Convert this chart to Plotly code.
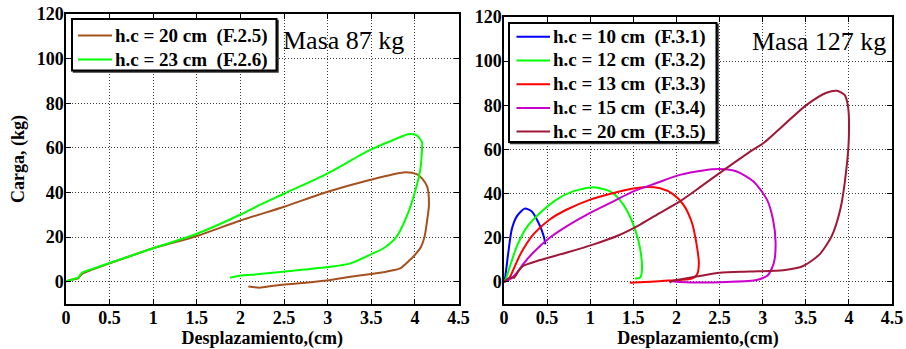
import plotly.graph_objects as go

# ---------------- data ----------------
# Left panel: Masa 87 kg
f25_x = [0, 0.05, 0.14, 0.18, 0.31, 0.5, 1.0, 1.5, 1.99, 2.5, 3.0, 3.48, 3.87, 4.02, 4.08, 4.14,
         4.16, 4.14, 4.11, 4.07, 3.98, 3.94, 3.83, 3.68, 3.52, 3.26, 2.99, 2.68, 2.38, 2.22, 2.09]
f25_y = [0, 0.8, 1.5, 3.4, 5.5, 8.2, 15.0, 20.5, 27.3, 33.6, 40.3, 45.6, 49.0, 48.2, 46.3, 42.6,
         34.4, 27.7, 20.2, 15.7, 11.2, 9.7, 6.0, 4.6, 3.6, 2.2, 0.5, -0.7, -1.8, -2.7, -2.2]

f26_x = [0, 0.05, 0.14, 0.18, 0.31, 0.5, 1.0, 1.5, 1.99, 2.22, 2.49, 3.0, 3.48, 3.75, 3.92, 4.02,
         4.08, 4.08, 4.06, 4.0, 3.92, 3.79, 3.64, 3.52, 3.26, 3.03, 2.49, 2.22, 1.99, 1.88]
f26_y = [0, 0.8, 1.8, 3.9, 5.8, 8.4, 15.0, 21.5, 29.9, 34.4, 39.3, 48.6, 59.0, 63.5, 66.1, 65.6,
         62.5, 59.0, 50.0, 40.3, 30.7, 20.2, 15.0, 12.7, 8.2, 6.7, 4.5, 3.4, 2.7, 1.8]

# Right panel: Masa 127 kg
f31_x = [0, 0.01, 0.05, 0.09, 0.15, 0.24, 0.32, 0.40, 0.46, 0.48]
f31_y = [0, 1.2, 13.3, 23.8, 29.8, 33.2, 32.0, 26.8, 20.8, 17.0]

f32_x = [0, 0.02, 0.07, 0.15, 0.26, 0.42, 0.61, 0.80, 1.04, 1.23, 1.34, 1.44, 1.52, 1.58, 1.60, 1.58, 1.52]
f32_y = [0, 1.2, 7.2, 16.2, 24.5, 31.3, 37.3, 41.0, 42.9, 41.0, 37.3, 31.3, 23.8, 14.8, 5.7, 2.0, 1.5]

f33_x = [0, 0.05, 0.11, 0.19, 0.34, 0.53, 0.73, 1.0, 1.27, 1.5, 1.65, 1.81, 1.96, 2.08, 2.18, 2.23,
         2.26, 2.24, 2.18, 2.04, 1.9, 1.7, 1.46]
f33_y = [0, 1.0, 5.7, 12.5, 21.5, 28.3, 32.8, 37.3, 40.3, 42.3, 43.0, 42.4, 39.8, 35.0, 26.8, 17.8,
         8.7, 3.5, 1.5, 0.9, 0.6, 0.1, -0.4]

f34_x = [0, 0.08, 0.15, 0.22, 0.34, 0.53, 0.73, 1.0, 1.27, 1.5, 1.77, 2.04, 2.31, 2.5, 2.70, 2.89,
         3.05, 3.12, 3.15, 3.13, 3.06, 2.93, 2.58, 2.31, 2.04, 1.95]
f34_y = [0, 1.5, 4.2, 8.0, 13.3, 20.0, 25.3, 31.3, 36.5, 41.0, 44.8, 48.5, 50.5, 51.1, 50.0, 45.6,
         37.3, 28.3, 17.8, 8.7, 3.0, 0.9, 0.0, -0.3, 0.0, 0.3]

f35_x = [0, 0.07, 0.12, 0.17, 0.22, 0.42, 0.73, 1.04, 1.31, 1.58, 1.81, 2.04, 2.27, 2.5, 2.89, 3.01,
         3.51, 3.74, 3.86, 3.95, 3.99, 4.0, 3.97, 3.90, 3.80, 3.66, 3.47, 3.24, 2.85, 2.50, 2.27,
         2.12, 1.96, 1.92]
f35_y = [0, 2.0, 2.0, 5.0, 7.2, 9.9, 13.3, 17.0, 20.8, 26.0, 31.3, 36.5, 42.8, 49.3, 59.9, 62.9,
         80.2, 85.7, 86.6, 84.7, 79.4, 65.9, 50.8, 32.8, 20.7, 12.5, 7.2, 5.3, 4.7, 4.2, 2.7,
         1.7, 0.5, -0.3]

left_names = ["h.c = 20 cm\u00a0\u00a0(F.2.5)", "h.c = 23 cm\u00a0\u00a0(F.2.6)"]
right_names = ["h.c = 10 cm\u00a0\u00a0(F.3.1)", "h.c = 12 cm\u00a0\u00a0(F.3.2)",
               "h.c = 13 cm\u00a0\u00a0(F.3.3)", "h.c = 15 cm\u00a0\u00a0(F.3.4)",
               "h.c = 20 cm\u00a0\u00a0(F.3.5)"]
x_ticks = [0, 0.5, 1, 1.5, 2, 2.5, 3, 3.5, 4, 4.5]
x_labels = ["0", "0.5", "1", "1.5", "2", "2.5", "3", "3.5", "4", "4.5"]
y_ticks = [0, 20, 40, 60, 80, 100, 120]
x_title = "Desplazamiento,(cm)"
y_title = "Carga, (kg)"
left_label = "Masa 87 kg"
right_label = "Masa 127 kg"

left_colors = ["#A5501F", "#00FF00"]
right_colors = ["#0000FF", "#00FF00", "#FF0000", "#CC00CC", "#A01838"]

# ---------------- figure ----------------
W, H = 906, 349
FONT = "Liberation Serif"

def px_x(p):
    return p / W

def px_y(p):
    return 1 - p / H

fig = go.Figure()
for xs, ys, nm, c in zip([f25_x, f26_x], [f25_y, f26_y], left_names, left_colors):
    fig.add_trace(go.Scatter(x=xs, y=ys, name=nm, mode="lines",
                             line=dict(color=c, width=2, shape="spline", smoothing=0.7),
                             xaxis="x", yaxis="y", showlegend=False))
for xs, ys, nm, c in zip([f31_x, f32_x, f33_x, f34_x, f35_x],
                         [f31_y, f32_y, f33_y, f34_y, f35_y], right_names, right_colors):
    fig.add_trace(go.Scatter(x=xs, y=ys, name=nm, mode="lines",
                             line=dict(color=c, width=2, shape="spline", smoothing=0.7),
                             xaxis="x2", yaxis="y2", showlegend=False))

tickfont = dict(family=FONT, size=18, color="black", weight="bold")
titlefont = dict(family=FONT, size=18, color="black", weight="bold")
GRID = dict(showgrid=True, gridcolor="#404040", griddash="1px,2px", gridwidth=1,
            zeroline=False, showline=True, linecolor="black", linewidth=1.5,
            mirror="allticks", ticks="inside", ticklen=5, tickcolor="black",
            automargin=False, tickfont=tickfont, ticklabelstandoff=-3)

def xaxis(domain, anchor):
    return dict(domain=domain, anchor=anchor, range=[0, 4.5], tickvals=x_ticks, ticktext=x_labels,
                title=dict(text=x_title, font=titlefont, standoff=4), **GRID)

def yaxis(domain, anchor, title):
    d = dict(domain=domain, anchor=anchor, range=[-10, 120], tickvals=y_ticks, **GRID)
    if title:
        d["title"] = dict(text=y_title, font=titlefont, standoff=7)
    return d

left_dom_x = [px_x(66), px_x(458.6)]
right_dom_x = [px_x(504), px_x(892)]
left_dom_y = [px_y(304), px_y(14)]
right_dom_y = [px_y(304), px_y(17)]

# ---- legends drawn as boxed entries (paper coordinates) ----
shapes = []
annotations = []
legfont = dict(family=FONT, size=19, color="black", weight="bold")

def add_legend(names, colors, box, first_row, row_gap, line_x0, line_x1, text_x):
    x0, y0, x1, y1 = box
    # shadow + box
    shapes.append(dict(type="rect", xref="paper", yref="paper", layer="above",
                       x0=px_x(x0 + 1.5), x1=px_x(x1 + 1.5), y0=px_y(y1 + 1.5), y1=px_y(y0 + 1.5),
                       line=dict(color="#333333", width=1.5), fillcolor="#333333"))
    shapes.append(dict(type="rect", xref="paper", yref="paper", layer="above",
                       x0=px_x(x0), x1=px_x(x1), y0=px_y(y1), y1=px_y(y0),
                       line=dict(color="black", width=2), fillcolor="white"))
    for i, (nm, c) in enumerate(zip(names, colors)):
        yc = first_row + i * row_gap
        shapes.append(dict(type="line", xref="paper", yref="paper", layer="above",
                           x0=px_x(line_x0), x1=px_x(line_x1), y0=px_y(yc), y1=px_y(yc),
                           line=dict(color=c, width=2)))
        annotations.append(dict(text=nm, xref="paper", yref="paper", x=px_x(text_x), y=px_y(yc),
                                xanchor="left", yanchor="middle", showarrow=False, font=legfont))

add_legend(left_names, left_colors, (72, 19, 276.5, 70.5), 35.5, 24, 78, 112, 113)
add_legend(right_names, right_colors, (509, 23, 716.5, 142), 36.8, 23.7, 516.5, 550, 551)

annotations.append(dict(text=left_label, xref="paper", yref="paper", x=px_x(281), y=px_y(41),
                        xanchor="left", yanchor="middle", showarrow=False,
                        font=dict(family=FONT, size=26, color="black")))
annotations.append(dict(text=right_label, xref="paper", yref="paper", x=px_x(750), y=px_y(42),
                        xanchor="left", yanchor="middle", showarrow=False,
                        font=dict(family=FONT, size=26, color="black")))

fig.update_layout(
    width=W, height=H,
    margin=dict(l=0, r=0, t=0, b=0, autoexpand=False),
    paper_bgcolor="white", plot_bgcolor="white",
    xaxis=xaxis(left_dom_x, "y"),
    yaxis=yaxis(left_dom_y, "x", True),
    xaxis2=xaxis(right_dom_x, "y2"),
    yaxis2=yaxis(right_dom_y, "x2", False),
    shapes=shapes,
    annotations=annotations,
    showlegend=False,
)

fig.write_html("out.html", config={"displayModeBar": False},
               post_script="document.body.style.margin='0';document.body.style.overflow='hidden';")
